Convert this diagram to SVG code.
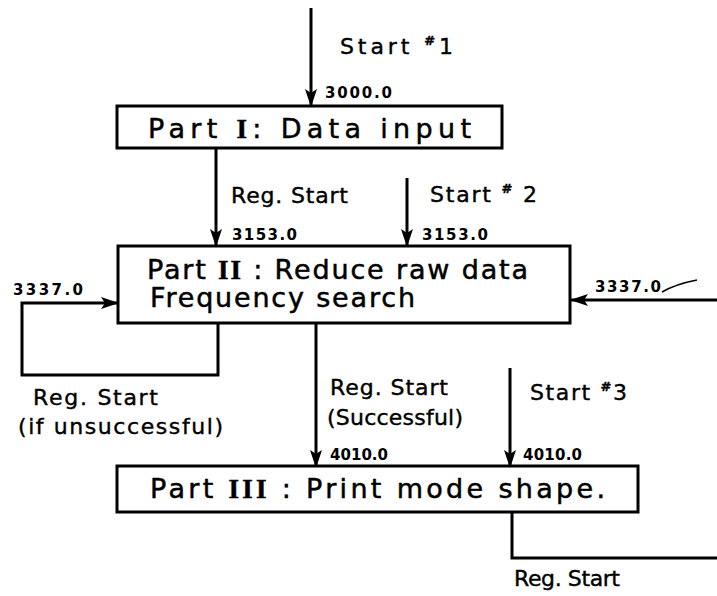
<svg xmlns="http://www.w3.org/2000/svg" width="717" height="596" viewBox="0 0 717 596">
<style>
.box{fill:#fff;stroke:#000;stroke-width:3}
.ln{fill:none;stroke:#000;stroke-width:3}
.arr{fill:none;stroke:#000;stroke-width:3;marker-end:url(#ah)}
.t{font-family:"DejaVu Sans","Liberation Sans",sans-serif;fill:#000}
.big{font-size:27px;stroke:#000;stroke-width:0.5}
.lab{font-size:22px;stroke:#000;stroke-width:0.4}
.num{font-size:15px;font-weight:bold}
.rn{font-family:"Liberation Serif","DejaVu Serif",serif;font-weight:bold}
.sup{font-size:13px;font-weight:bold}
</style>
<defs>
<marker id="ah" markerUnits="userSpaceOnUse" markerWidth="18" markerHeight="12" refX="17" refY="6" orient="auto">
<path d="M0,0 L18,6 L0,12 L4,6 Z" fill="#000"/>
</marker>
</defs>
<rect width="717" height="596" fill="#fff"/>
<g id="connectors">
<line class="arr" x1="311" y1="8" x2="311" y2="106"/>
<line class="arr" x1="216" y1="148" x2="216" y2="246"/>
<line class="arr" x1="407" y1="178" x2="407" y2="246"/>
<polyline class="arr" points="218,323 218,375 22,375 22,303 118,303"/>
<line class="arr" x1="717" y1="300" x2="571" y2="300"/>
<path d="M662,292 Q676,284 697,280" fill="none" stroke="#000" stroke-width="1.5"/>
<line class="arr" x1="316" y1="323" x2="316" y2="467"/>
<line class="arr" x1="510" y1="368" x2="510" y2="467"/>
<polyline class="ln" points="512,512 512,558 717,558"/>
<text class="t lab" x="340" y="54" textLength="113">Start <tspan class="sup" dy="-9">#</tspan><tspan dy="9">1</tspan></text>
<text class="t num" x="325" y="98" textLength="67">3000.0</text>
<text class="t lab" x="231" y="203" textLength="117">Reg. Start</text>
<text class="t num" x="232" y="240" textLength="65">3153.0</text>
<text class="t lab" x="430" y="202" textLength="107">Start <tspan class="sup" dy="-9">#</tspan><tspan dy="9"> 2</tspan></text>
<text class="t num" x="422" y="240" textLength="66">3153.0</text>
<text class="t num" x="13" y="295" textLength="70">3337.0</text>
<text class="t num" x="595" y="292" textLength="66">3337.0</text>
<text class="t lab" x="33" y="405" textLength="125">Reg. Start</text>
<text class="t lab" x="18" y="434" textLength="205">(if unsuccessful)</text>
<text class="t lab" x="330" y="395" textLength="118">Reg. Start</text>
<text class="t lab" x="327" y="425" textLength="136">(Successful)</text>
<text class="t num" x="330" y="460" textLength="58">4010.0</text>
<text class="t lab" x="530" y="400" textLength="97">Start <tspan class="sup" dy="-9">#</tspan><tspan dy="9">3</tspan></text>
<text class="t num" x="523" y="460" textLength="59">4010.0</text>
<text class="t lab" x="514" y="586" textLength="106">Reg. Start</text>
</g>
<g id="part1">
<rect class="box" x="117" y="106" width="385" height="42"/>
<text class="t big" x="148" y="138" textLength="323">Part <tspan class="rn">I</tspan>:  Data input</text>
</g>
<g id="part2">
<rect class="box" x="118" y="246" width="452" height="77"/>
<text class="t big" x="147" y="279" textLength="381">Part <tspan class="rn">II</tspan> : Reduce raw data</text>
<text class="t big" x="150" y="307" textLength="265">Frequency search</text>
</g>
<g id="part3">
<rect class="box" x="117" y="466" width="521" height="46"/>
<text class="t big" x="150" y="498" textLength="455">Part <tspan class="rn">III</tspan> :  Print mode shape.</text>
</g>
</svg>
